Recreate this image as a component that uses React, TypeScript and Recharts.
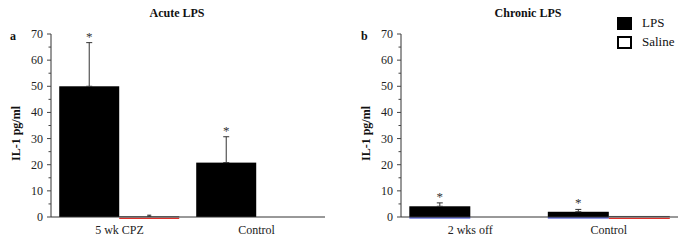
import { BarChart, Bar, XAxis, YAxis, ErrorBar } from 'recharts';

// panel a: acute LPS
const acuteGroups = ['5 wk CPZ', 'Control'];
const acuteLps = [50, 20.8];
const acuteLpsErr = [16.7, 9.9];
const acuteSaline = [0.3, 0];
const acuteSalineErr = [0.4, 0];

// panel b: chronic LPS
const chronicGroups = ['2 wks off', 'Control'];
const chronicLps = [4.1, 2.0];
const chronicLpsErr = [1.3, 0.9];
const chronicSaline = [0, 0.4];
const chronicSalineErr = [0, 0];

const yTicks = [0, 5, 10, 15, 20, 25, 30, 35, 40, 45, 50, 55, 60, 65, 70];

const FONT = '"Liberation Serif", "Times New Roman", serif';

const buildRows = (groups: string[], lps: number[], lpsErr: number[], sal: number[], salErr: number[]) =>
  groups.map((g, i) => ({
    group: g,
    lps: lps[i],
    lpsErr: lpsErr[i] ? [0, lpsErr[i]] : null,
    saline: sal[i],
    salineErr: salErr[i] ? [0, salErr[i]] : null,
  }));

const YTick = (props: any) => {
  const { x, y, payload } = props;
  const major = payload.value % 10 === 0;
  return (
    <g>
      <line x1={x - (major ? 4 : 2.5)} x2={x} y1={y} y2={y} stroke="#444" strokeWidth={1} />
      {major && (
        <text x={x - 8} y={y} textAnchor="end" dominantBaseline="central" fontSize={12} fontFamily={FONT} fill="#222">
          {payload.value}
        </text>
      )}
    </g>
  );
};

const YLabel = (props: any) => {
  const vb = props.viewBox || {};
  const cx = vb.x + vb.width - 35;
  const cy = vb.y + vb.height / 2 + 8;
  return (
    <text
      x={cx}
      y={cy}
      transform={`rotate(-90 ${cx} ${cy})`}
      textAnchor="middle"
      dominantBaseline="central"
      fontSize={12}
      fontWeight="bold"
      fontFamily={FONT}
      fill="#111"
    >
      IL-1 pg/ml
    </text>
  );
};

// asterisk above the lps error bar
const makeStar = (errs: number[]) => (props: any) => {
  const { x, y, width, height, value, index } = props;
  if (!value) return null;
  const pxPerUnit = height / value;
  const top = y - errs[index] * pxPerUnit;
  return (
    <text x={x + width / 2} y={top - 2} textAnchor="middle" fontSize={13} fontFamily={FONT} fill="#333">
      *
    </text>
  );
};

const LpsShape = (edge?: string) => (props: any) => {
  const { x, y, width, height } = props;
  return (
    <g>
      <rect x={x} y={y} width={width} height={height} fill="#000" />
      {edge && <line x1={x} x2={x + width} y1={y + height + 0.8} y2={y + height + 0.8} stroke={edge} strokeWidth={1.2} />}
    </g>
  );
};

const SalineShape = (props: any) => {
  const { x, y, width, height, value } = props;
  const v = Array.isArray(value) ? value[1] - value[0] : value;
  if (!v) return null;
  return (
    <g>
      <line x1={x} x2={x + width} y1={y + 0.5} y2={y + 0.5} stroke="#333" strokeWidth={0.8} />
      <line x1={x} x2={x + width} y1={y + height + 1.3} y2={y + height + 1.3} stroke="#e0302a" strokeWidth={1.2} />
    </g>
  );
};

const Panel = ({ rows, errs, edge, width, margin }: any) => (
  <BarChart width={width} height={242} data={rows} margin={margin} barCategoryGap="6%" barGap={0}>
    <XAxis
      dataKey="group"
      axisLine={{ stroke: '#333' }}
      tickLine={false}
      tickSize={0}
      tickMargin={8}
      height={20}
      tick={{ fontSize: 12, fontFamily: FONT, fill: '#222' }}
    />
    <YAxis
      domain={[0, 70]}
      ticks={yTicks}
      interval={0}
      width={30}
      tickSize={0}
      tickMargin={0}
      tickLine={false}
      axisLine={{ stroke: '#333' }}
      tick={<YTick />}
      label={{ value: 'IL-1 pg/ml', content: <YLabel /> }}
    />
    <Bar dataKey="lps" isAnimationActive={false} shape={LpsShape(edge)} label={makeStar(errs)}>
      <ErrorBar dataKey="lpsErr" width={3} stroke="#333" strokeWidth={1} direction="y" />
    </Bar>
    <Bar dataKey="saline" isAnimationActive={false} shape={SalineShape}>
      <ErrorBar dataKey="salineErr" width={2} stroke="#333" strokeWidth={1} direction="y" />
    </Bar>
  </BarChart>
);

const titleStyle: any = {
  position: 'absolute',
  top: 6,
  fontSize: 12,
  fontWeight: 'bold',
  transform: 'translateX(-50%)',
  whiteSpace: 'nowrap',
};

const letterStyle: any = { position: 'absolute', top: 29, fontSize: 12, fontWeight: 'bold' };

export default function App() {
  const acuteRows = buildRows(acuteGroups, acuteLps, acuteLpsErr, acuteSaline, acuteSalineErr);
  const chronicRows = buildRows(chronicGroups, chronicLps, chronicLpsErr, chronicSaline, chronicSalineErr);
  return (
    <div
      style={{
        position: 'absolute',
        left: 0,
        top: 0,
        width: 685,
        height: 242,
        background: '#fff',
        fontFamily: FONT,
        color: '#111',
        overflow: 'hidden',
      }}
    >
      <div style={{ position: 'absolute', left: 0, top: 0 }}>
        <Panel rows={acuteRows} errs={acuteLpsErr} width={340} margin={{ top: 34, right: 15, bottom: 5, left: 21 }} />
      </div>
      <div style={{ position: 'absolute', left: 340, top: 0 }}>
        <Panel
          rows={chronicRows}
          errs={chronicLpsErr}
          edge="#2233cc"
          width={345}
          margin={{ top: 34, right: 7, bottom: 5, left: 31 }}
        />
      </div>
      <div style={{ ...titleStyle, left: 177 }}>Acute LPS</div>
      <div style={{ ...titleStyle, left: 528 }}>Chronic LPS</div>
      <div style={{ ...letterStyle, left: 10 }}>a</div>
      <div style={{ ...letterStyle, left: 361 }}>b</div>
      <div style={{ position: 'absolute', left: 617, top: 16, fontSize: 13 }}>
        <div style={{ display: 'flex', alignItems: 'center', height: 14, marginBottom: 5 }}>
          <div style={{ width: 15, height: 13, background: '#000' }} />
          <span style={{ marginLeft: 10 }}>LPS</span>
        </div>
        <div style={{ display: 'flex', alignItems: 'center', height: 14 }}>
          <div style={{ width: 11, height: 9, border: '2px solid #000', background: '#fff' }} />
          <span style={{ marginLeft: 10 }}>Saline</span>
        </div>
      </div>
    </div>
  );
}
